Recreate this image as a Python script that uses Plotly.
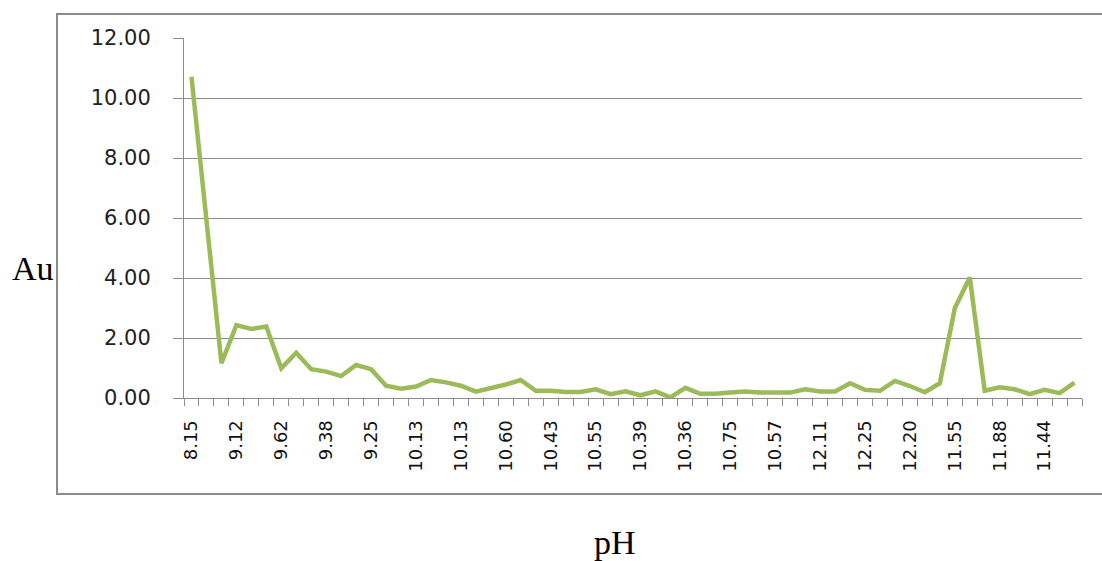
import plotly.graph_objects as go

# Au concentration measured across 60 consecutive samples
au_values = [
    10.71, 6.10, 1.16, 2.43, 2.30, 2.38, 0.99, 1.51, 0.96, 0.88,
    0.73, 1.10, 0.96, 0.41, 0.31, 0.38, 0.60, 0.52, 0.41, 0.21,
    0.32, 0.45, 0.60, 0.24, 0.24, 0.20, 0.20, 0.29, 0.13, 0.22,
    0.09, 0.22, 0.02, 0.34, 0.14, 0.14, 0.18, 0.22, 0.18, 0.18,
    0.18, 0.29, 0.22, 0.22, 0.49, 0.27, 0.24, 0.57, 0.40, 0.19,
    0.49, 2.99, 4.02, 0.24, 0.36, 0.29, 0.13, 0.27, 0.16, 0.51,
]
sample_index = list(range(len(au_values)))

# pH labels shown on every third sample
ph_labels = [
    "8.15", "9.12", "9.62", "9.38", "9.25", "10.13", "10.13", "10.60",
    "10.43", "10.55", "10.39", "10.36", "10.75", "10.57", "12.11",
    "12.25", "12.20", "11.55", "11.88", "11.44",
]
label_positions = sample_index[::3]

y_ticks = [0, 2, 4, 6, 8, 10, 12]

fig = go.Figure()
fig.add_trace(go.Scatter(
    x=sample_index,
    y=au_values,
    mode="lines",
    line=dict(color="#9BBB59", width=4.5),
    showlegend=False,
    hoverinfo="x+y",
))

axis_grey = "#8c8c8c"

fig.update_layout(
    width=1102,
    height=561,
    margin=dict(l=184, r=20, t=38, b=163),
    paper_bgcolor="white",
    plot_bgcolor="white",
    xaxis=dict(
        range=[-0.5, len(au_values) - 0.5],
        tickmode="array",
        tickvals=label_positions,
        ticktext=ph_labels,
        tickangle=-90,
        ticks="",
        ticklabelstandoff=14,
        tickfont=dict(family="DejaVu Sans", size=18, color="#111111"),
        showgrid=False,
        zeroline=False,
        showline=True,
        linecolor=axis_grey,
        linewidth=1,
        minor=dict(
            tickmode="linear",
            tick0=-0.5,
            dtick=1,
            ticks="outside",
            ticklen=7,
            tickcolor=axis_grey,
            tickwidth=1,
            showgrid=False,
        ),
    ),
    yaxis=dict(
        range=[0, 12],
        tickmode="array",
        tickvals=y_ticks,
        tickformat=".2f",
        ticks="outside",
        ticklen=10,
        tickcolor=axis_grey,
        ticklabelstandoff=18,
        tickfont=dict(family="DejaVu Sans", size=21, color="#222222"),
        showgrid=True,
        gridcolor=axis_grey,
        gridwidth=1,
        zeroline=False,
        showline=True,
        linecolor=axis_grey,
        linewidth=1,
    ),
    shapes=[
        dict(
            type="rect",
            xref="paper", yref="paper",
            x0=-0.1414, x1=1.025, y0=-0.2667, y1=1.0667,
            line=dict(color="#8a8a8a", width=2),
            fillcolor="rgba(0,0,0,0)",
            layer="below",
        )
    ],
    annotations=[
        dict(
            text="Au",
            xref="paper", yref="paper",
            x=-0.194, y=0.36,
            xanchor="left", yanchor="middle",
            showarrow=False,
            font=dict(family="Liberation Serif", size=34, color="black"),
        ),
        dict(
            text="pH",
            xref="paper", yref="paper",
            x=(615 - 184) / 898, y=-0.40,
            xanchor="center", yanchor="middle",
            showarrow=False,
            font=dict(family="Liberation Serif", size=34, color="black"),
        ),
    ],
)

fig.write_html("out.html")
